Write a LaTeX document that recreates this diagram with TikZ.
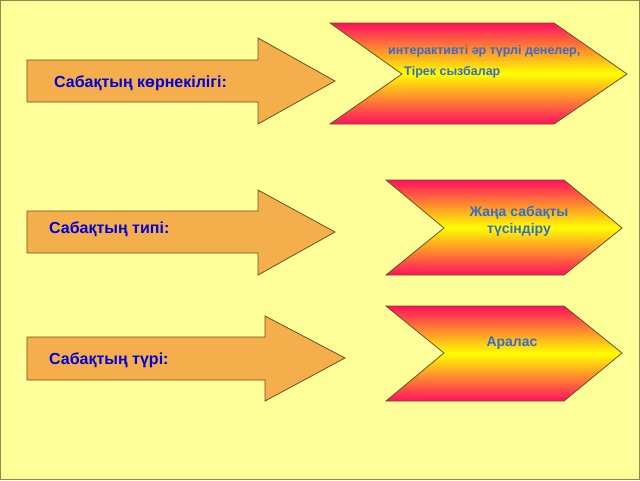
\documentclass[tikz,border=0pt]{standalone}
\usepackage{fontspec}
\setmainfont{Liberation Sans}
\begin{document}
\begin{tikzpicture}[x=1pt, y=-1pt, line join=miter]
    % ----------- colours -----------
    \definecolor{slide}{RGB}{255,255,153}
    \definecolor{frame}{RGB}{140,140,70}
    \definecolor{arrowfill}{RGB}{245,174,76}
    \definecolor{edge}{RGB}{110,80,30}
    \definecolor{hot}{RGB}{255,16,96}
    \colorlet{labelblue}{blue!85!black}
    \definecolor{inblue}{RGB}{50,110,200}
    \tikzset{
        leftarrow/.style={draw=edge, fill=arrowfill, line width=0.8pt},
        chevron/.style={draw=edge, line width=0.8pt, top color=hot, bottom color=hot, middle color=yellow},
        lbl/.style={font=\bfseries\fontsize{16}{18}\selectfont, text=labelblue, anchor=west, inner sep=0pt},
        inlbl/.style={font=\bfseries\fontsize{14}{17}\selectfont, text=inblue, inner sep=0pt, align=center},
    }

    % background of the slide
    \fill[slide] (0,0) rectangle (640,480);
    \draw[frame, line width=1.2pt] (0.6,0.6) rectangle (639.4,479.4);

    % =====================================
    %          left arrows
    % =====================================
    \draw[leftarrow] (27,60) -- (258,60) -- (258,38) -- (335,81) -- (258,124) -- (258,102) -- (27,102) -- cycle;
    \draw[leftarrow] (27,211) -- (258,211) -- (258,190) -- (335,232) -- (258,275) -- (258,253) -- (27,253) -- cycle;
    \draw[leftarrow] (27,337) -- (265,337) -- (265,316) -- (345,358) -- (265,401) -- (265,380) -- (27,380) -- cycle;

    \node[lbl] (korn) at (54,83) {Сабақтың көрнекілігі:};
    \node[lbl] (tipi) at (49,229) {Сабақтың типі:};
    \node[lbl] (turi) at (49,360) {Сабақтың түрі:};

    % =====================================
    %          right chevrons
    % =====================================
    \draw[chevron] (330,23) -- (554,23) -- (627,74) -- (554,124) -- (330,124) -- (402,74) -- cycle;
    \draw[chevron] (386,180) -- (564,180) -- (622,228) -- (564,275) -- (386,275) -- (444,228) -- cycle;
    \draw[chevron] (386,306) -- (564,306) -- (622,353) -- (564,401) -- (386,401) -- (444,353) -- cycle;

    \node[inlbl, anchor=west, font=\bfseries\fontsize{12.5}{14}\selectfont] (dene) at (388,51) {интерактивті әр түрлі денелер,};
    \node[inlbl, anchor=west, font=\bfseries\fontsize{12.5}{14}\selectfont] (tirek) at (404,72) {Тірек сызбалар};
    \node[inlbl] (jana) at (519,221) {Жаңа сабақты\\түсіндіру};
    \node[inlbl] (aralas) at (512,343) {Аралас};
\end{tikzpicture}
\end{document}
